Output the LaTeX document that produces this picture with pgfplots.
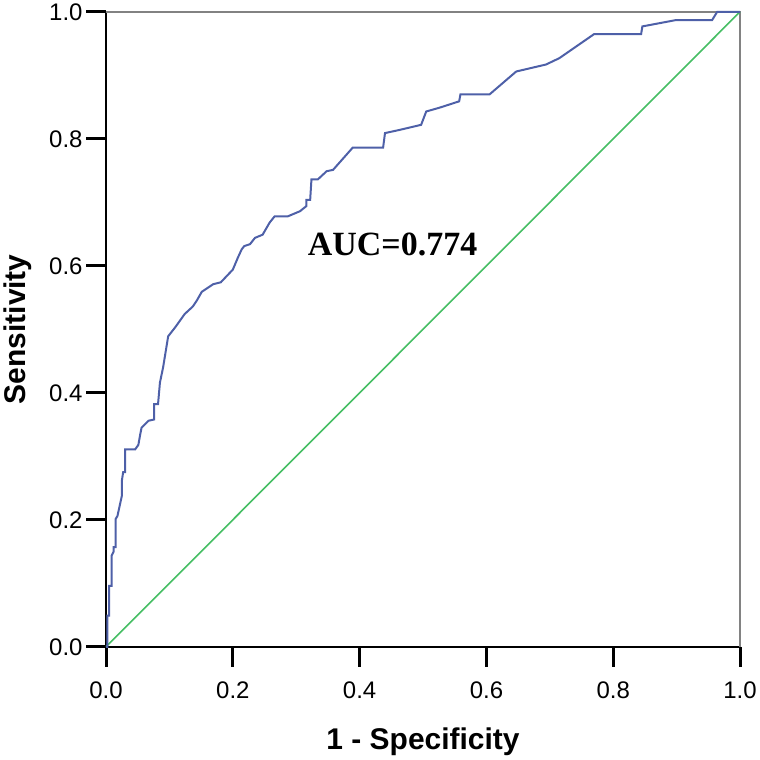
\documentclass[border=0pt]{standalone}
\usepackage{pgfplots}
\pgfplotsset{compat=1.18}
\usepackage{fontspec}
\setmainfont{Liberation Sans}
\newfontfamily\serifb{Liberation Serif}
\definecolor{roc}{RGB}{78,96,168}
\definecolor{diag}{RGB}{70,190,100}
\definecolor{framegray}{RGB}{130,130,130}
\begin{document}
\begin{tikzpicture}
\begin{axis}[
  scale only axis, width=635pt, height=636pt,
  xmin=0, xmax=1, ymin=0, ymax=1,
  xtick={0,0.2,0.4,0.6,0.8,1}, ytick={0,0.2,0.4,0.6,0.8,1},
  xtick pos=bottom, ytick pos=left,
  tick align=inside, major tick length=0pt,
  tick style={draw=none},
  axis line style={black, line width=2pt},
  xticklabel style={/pgf/number format/fixed, /pgf/number format/fixed zerofill, /pgf/number format/precision=1, /pgf/number format/assume math mode=true, font=\fontsize{24}{28}\selectfont, yshift=-32pt},
  yticklabel style={/pgf/number format/fixed, /pgf/number format/fixed zerofill, /pgf/number format/precision=1, /pgf/number format/assume math mode=true, font=\fontsize{24}{28}\selectfont, xshift=-20pt},
  xlabel={1 - Specificity}, ylabel={Sensitivity},
  label style={font=\fontsize{30}{36}\selectfont\bfseries},
  xlabel style={at={(axis description cs:0.5,-0.15)}, anchor=center},
  ylabel style={at={(axis description cs:-0.14,0.5)}, anchor=center},
  clip=false,
]
\draw[framegray, line width=2pt] (rel axis cs:0,1) -- (rel axis cs:1,1) -- (rel axis cs:1,0);
\draw[black, line width=3pt] (axis cs:0,0) -- (axis cs:0,-0.0315);
\draw[black, line width=3pt] (axis cs:0.2,0) -- (axis cs:0.2,-0.0315);
\draw[black, line width=3pt] (axis cs:0.4,0) -- (axis cs:0.4,-0.0315);
\draw[black, line width=3pt] (axis cs:0.6,0) -- (axis cs:0.6,-0.0315);
\draw[black, line width=3pt] (axis cs:0.8,0) -- (axis cs:0.8,-0.0315);
\draw[black, line width=3pt] (axis cs:1,0) -- (axis cs:1,-0.0315);
\draw[black, line width=3pt] (axis cs:0,0) -- (axis cs:-0.0315,0);
\draw[black, line width=3pt] (axis cs:0,0.2) -- (axis cs:-0.0315,0.2);
\draw[black, line width=3pt] (axis cs:0,0.4) -- (axis cs:-0.0315,0.4);
\draw[black, line width=3pt] (axis cs:0,0.6) -- (axis cs:-0.0315,0.6);
\draw[black, line width=3pt] (axis cs:0,0.8) -- (axis cs:-0.0315,0.8);
\draw[black, line width=3pt] (axis cs:0,1) -- (axis cs:-0.0315,1);
\addplot[diag, line width=1.6pt] coordinates {(0,0) (1,1)};
\addplot[roc, line width=2pt] coordinates {
(0,0)(0.002,0)(0.002,0.049)(0.005,0.049)(0.005,0.096)(0.009,0.096)(0.009,0.144)(0.012,0.150)(0.012,0.157)(0.015,0.157)(0.015,0.201)(0.018,0.206)(0.025,0.238)(0.025,0.262)(0.027,0.275)(0.030,0.275)(0.030,0.311)(0.046,0.311)(0.051,0.318)(0.054,0.335)(0.056,0.345)(0.067,0.356)(0.076,0.358)(0.076,0.382)(0.082,0.382)(0.085,0.416)(0.090,0.440)(0.098,0.489)(0.109,0.503)(0.124,0.524)(0.137,0.536)(0.143,0.545)(0.151,0.559)(0.169,0.571)(0.181,0.574)(0.200,0.594)(0.208,0.613)(0.214,0.626)(0.218,0.631)(0.227,0.634)(0.235,0.644)(0.247,0.649)(0.258,0.668)(0.266,0.678)(0.287,0.678)(0.306,0.686)(0.316,0.694)(0.316,0.704)(0.322,0.704)(0.324,0.736)(0.334,0.736)(0.348,0.749)(0.358,0.751)(0.389,0.786)(0.437,0.786)(0.440,0.809)(0.463,0.814)(0.497,0.822)(0.505,0.843)(0.526,0.849)(0.557,0.859)(0.559,0.870)(0.605,0.870)(0.647,0.906)(0.694,0.917)(0.715,0.927)(0.770,0.965)(0.844,0.965)(0.846,0.977)(0.899,0.987)(0.956,0.987)(0.964,1.0)(1,1)
};
\node[font=\serifb\bfseries\fontsize{34}{38}\selectfont] at (axis cs:0.452,0.634) {AUC=0.774};
\end{axis}
\end{tikzpicture}
\end{document}
